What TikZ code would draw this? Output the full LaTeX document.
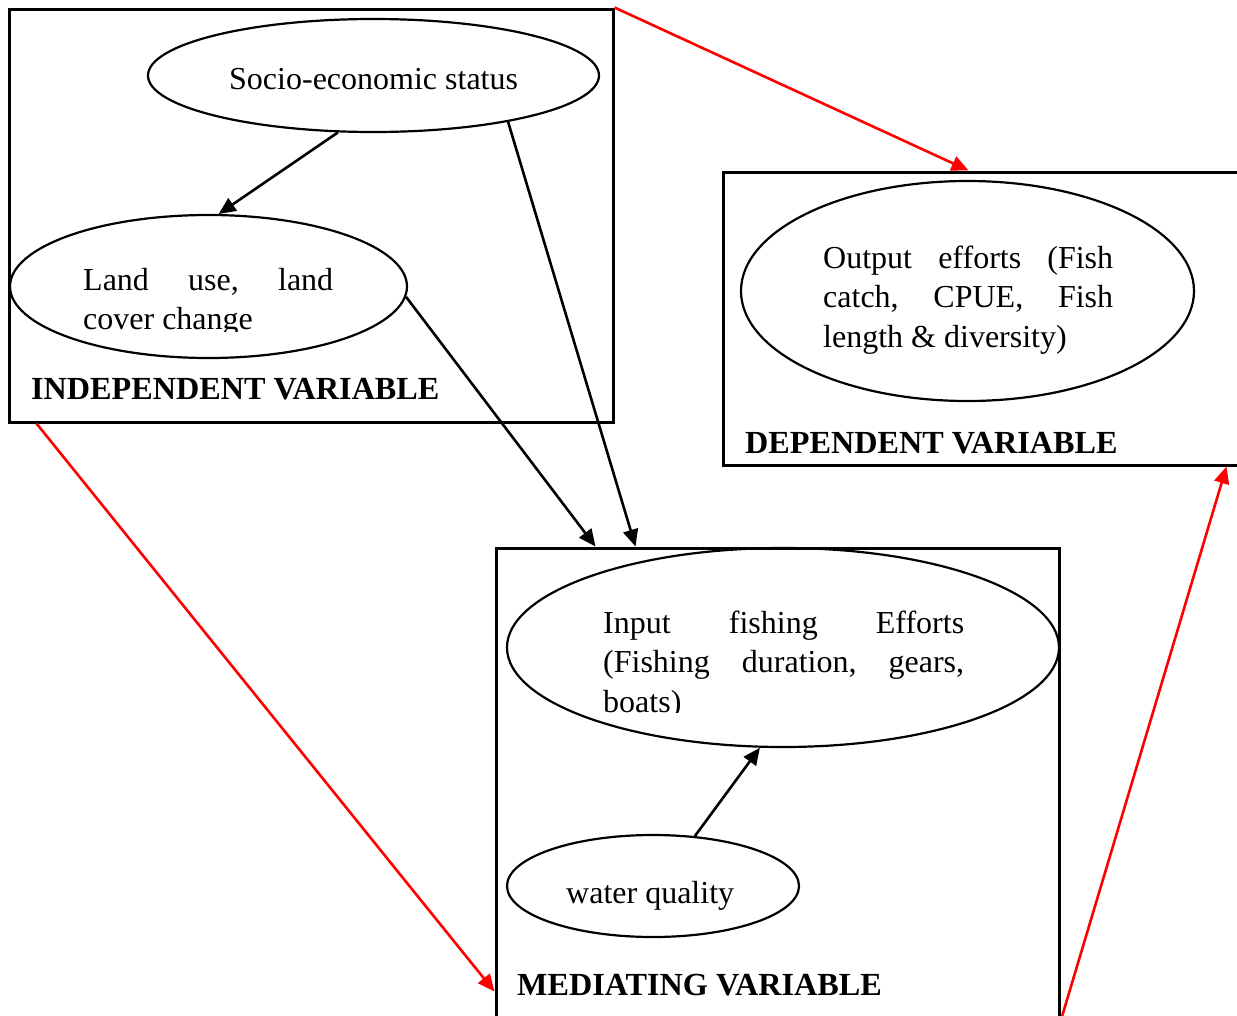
\documentclass[tikz,border=0pt]{standalone}
\usepackage{fontspec}
\setmainfont{Liberation Serif}
\usetikzlibrary{shapes.geometric,arrows.meta}
\begin{document}
\begin{tikzpicture}[x=1pt,y=-1pt,
  box/.style={draw, line width=3pt, rectangle, inner sep=0pt},
  ell/.style={draw, line width=2.2pt, ellipse, inner sep=0pt},
  txt/.style={inner sep=0pt, anchor=base west, font=\fontsize{32}{39.5}\selectfont},
  head/.style={inner sep=0pt, anchor=base west, font=\fontsize{32.2}{39.5}\selectfont\bfseries},
  blk/.style={line width=2.6pt, -{Triangle[length=17pt,width=15pt]}},
  redarr/.style={blk, red}]
\useasboundingbox (0,0) rectangle (1237,1015);
\fill[white] (0,0) rectangle (1237,1015);

% boxes
\node[box, minimum width=604pt, minimum height=413pt] (ind) at (311,215.5) {};
\node[box, minimum width=522pt, minimum height=293pt] (dep) at (984,318.5) {};
\node[box, minimum width=563pt, minimum height=472pt] (med) at (777.5,784) {};

% ellipses
\node[ell, minimum width=451pt, minimum height=113pt] (ses) at (373.5,75.5) {};
\node[ell, minimum width=397pt, minimum height=143pt] (luc) at (208.5,286.5) {};
\node[ell, minimum width=453pt, minimum height=220pt] (out) at (967.5,291) {};
\node[ell, minimum width=552pt, minimum height=199pt] (inp) at (783,647.5) {};
\node[ell, minimum width=292pt, minimum height=102pt] (wq) at (653,886) {};

% texts
\node[txt] (sestxt) at (229,89) {Socio-economic status};
\begin{scope}
\clip (0,0) rectangle (1237,331);
\node[txt] (luctxt) at (83,290) {\parbox[t]{250pt}{Land\hfill use,\hfill land\\cover change}};
\end{scope}
\node[txt] (outtxt) at (823,268) {\parbox[t]{290pt}{Output\hfill efforts\hfill (Fish\\catch,\hfill CPUE,\hfill Fish\\length \& diversity)}};
\begin{scope}
\clip (0,0) rectangle (1237,712);
\node[txt] (inptxt) at (603,633) {\parbox[t]{361pt}{Input\hfill fishing\hfill Efforts\\(Fishing\hfill duration,\hfill gears,\\boats)}};
\end{scope}
\node[txt] (wqtxt) at (566,903) {water quality};

\node[head] (indh) at (31,399) {INDEPENDENT VARIABLE};
\node[head] (deph) at (745,453) {DEPENDENT VARIABLE};
\node[head] (medh) at (517,995) {MEDIATING VARIABLE};

% connectors
\draw[blk] (ses.238) -- (luc.82);
\draw[blk] (ses.341) -- ([xshift=141pt]med.north west);
\draw[blk] (luc.357) -- ([xshift=101pt]med.north west);
\draw[blk] (wq.50) -- (inp.257.5);
\draw[redarr] (ind.north east) -- ([xshift=247pt]dep.north west);
\draw[redarr] ([xshift=29pt]ind.south west) -- ([yshift=-445pt]med.north west);
\draw[redarr] (med.south east) -- ([xshift=-20pt]dep.south east);
\end{tikzpicture}
\end{document}
